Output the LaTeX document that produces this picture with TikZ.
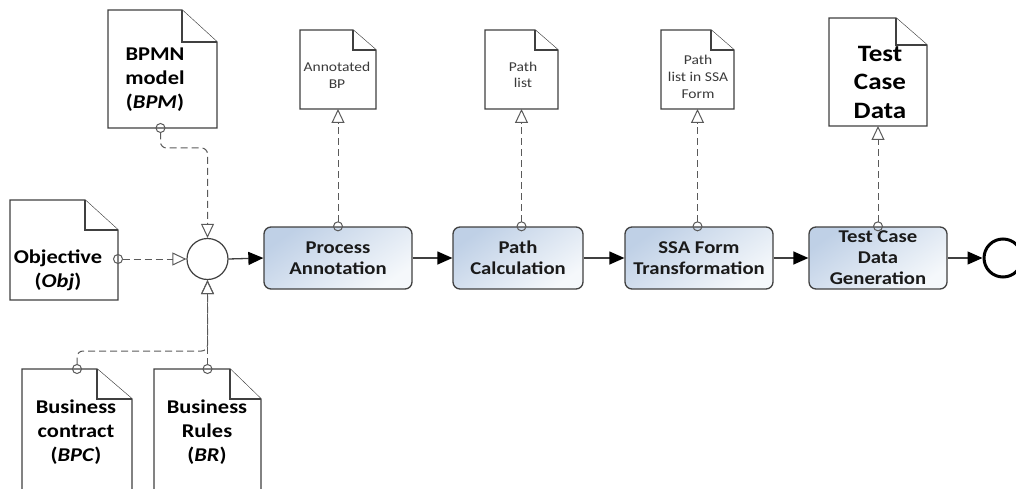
\documentclass[tikz,border=0pt]{standalone}
\usepackage{fontspec}
\setmainfont{Carlito}[FakeStretch=1.15]
\usetikzlibrary{arrows.meta}
\definecolor{lc}{HTML}{404040}
\definecolor{dc}{HTML}{5A5A5A}
\definecolor{boxtop}{HTML}{BFD0E6}
\definecolor{boxbot}{HTML}{F5F8FB}
\definecolor{tc}{HTML}{1A1A1A}
\definecolor{sc}{HTML}{3A3A3A}
\newcommand{\docfold}[3]{%
  \draw[docline] (#1.north west) -- ([xshift=-#2pt]#1.north east) -- ([yshift=-#3pt]#1.north east) -- (#1.south east) -- (#1.south west) -- cycle;
  \draw[docline] ([xshift=-#2pt]#1.north east) |- ([yshift=-#3pt]#1.north east);
}
\begin{document}
\begin{tikzpicture}[x=1pt,y=-1pt,
  task/.style={draw=lc, line width=1.3pt, rounded corners=7pt, top color=boxtop, bottom color=boxbot, shading angle=35, minimum height=62pt, inner sep=0pt, align=center, font=\fontsize{18}{21}\selectfont\bfseries, text=tc},
  docnode/.style={inner sep=0pt, outer sep=0pt},
  docline/.style={draw=lc, line width=1.2pt, fill=white, line join=miter},
  bigtext/.style={align=center, inner sep=0pt, font=\fontsize{19.5}{24}\selectfont\bfseries, text=black},
  hugetext/.style={align=center, inner sep=0pt, font=\fontsize{23.5}{28.5}\selectfont\bfseries, text=black},
  smalltext/.style={align=center, inner sep=0pt, font=\fontsize{13.5}{16.7}\selectfont, text=sc},
  flow/.style={draw=lc, line width=1.3pt, -{Triangle[length=15pt,width=13pt,color=black]}},
  assoc/.style={draw=dc, line width=1pt, dash pattern=on 7pt off 4pt, {Circle[open,length=10pt,width=10pt]}-{Triangle[open,length=14pt,width=13pt]}},
]
\useasboundingbox (0,0) rectangle (1016,489);
\clip (0,0) rectangle (1016,489);

% documents
\node[docnode, minimum width=109pt, minimum height=118pt] (bpmn) at (162.5,69) {};
\node[docnode, minimum width=108pt, minimum height=100pt] (obj) at (64,250) {};
\node[docnode, minimum width=110pt, minimum height=141pt] (bpc) at (77,439.5) {};
\node[docnode, minimum width=107pt, minimum height=141pt] (br) at (207.5,439.5) {};
\node[docnode, minimum width=76pt, minimum height=79pt] (abp) at (338,69.5) {};
\node[docnode, minimum width=73pt, minimum height=79pt] (pl) at (521.5,69.5) {};
\node[docnode, minimum width=73pt, minimum height=79pt] (ssad) at (697.5,69.5) {};
\node[docnode, minimum width=98pt, minimum height=108pt] (tcd) at (878,72) {};
\docfold{bpmn}{35}{32}
\docfold{obj}{33}{30}
\docfold{bpc}{35}{30}
\docfold{br}{31}{30}
\docfold{abp}{23}{20}
\docfold{pl}{23}{20}
\docfold{ssad}{23}{20}
\docfold{tcd}{31}{27}

\node[bigtext] (bpmnt) at (155,80) {BPMN\\model\\(\textit{BPM})};
\node[bigtext] (objt) at (58,270) {Objective\\(\textit{Obj})};
\node[bigtext] (bpct) at (76,432) {Business\\contract\\(\textit{BPC})};
\node[bigtext] (brt) at (207,432) {Business\\Rules\\(\textit{BR})};
\node[hugetext] (tcdt) at (880,82) {Test\\Case\\Data};
\node[smalltext] (abpt) at (337,75) {Annotated\\BP};
\node[smalltext] (plt) at (523,75) {Path\\list};
\node[smalltext] (ssat) at (698,77) {Path\\list in SSA\\Form};

% gateway, tasks, end
\node[draw=lc, line width=1.2pt, circle, minimum size=41pt, inner sep=0pt, fill=white] (gw) at (207.5,259) {};
\node[task, minimum width=148pt] (pa) at (338,258) {Process\\Annotation};
\node[task, minimum width=130pt] (pc) at (518,258) {Path\\Calculation};
\node[task, minimum width=148pt] (ssa) at (699,258) {SSA Form\\Transformation};
\node[task, minimum width=138pt] (tcdg) at (878,258) {Test Case\\Data\\Generation};
\node[draw=black, line width=3pt, circle, minimum size=38pt, inner sep=0pt] (endev) at (1003,258) {};

% sequence flows
\draw[flow] (gw.east) -- (pa.west);
\draw[flow] (pa.east) -- (pc.west);
\draw[flow] (pc.east) -- (ssa.west);
\draw[flow] (ssa.east) -- (tcdg.west);
\draw[flow] (tcdg.east) -- (endev.west);

% data associations
\draw[assoc, rounded corners=6pt] ([xshift=-2pt,yshift=5pt]bpmn.south) -- ++(0,25) -| (gw.north);
\draw[assoc] ([xshift=-5pt]obj.east |- gw.west) -- (gw.west);
\draw[assoc, rounded corners=6pt] ([yshift=-5pt]bpc.north) -- ++(0,-23) -| (gw.south);
\draw[assoc] ([yshift=-5pt]br.north) -- (gw.south);
\draw[assoc] ([yshift=-5pt]pa.north) -- (abp.south);
\draw[assoc] ([yshift=-5pt]pl.south |- pc.north) -- (pl.south);
\draw[assoc] ([yshift=-5pt]ssad.south |- ssa.north) -- (ssad.south);
\draw[assoc] ([yshift=-5pt]tcd.south |- tcdg.north) -- (tcd.south);
\end{tikzpicture}
\end{document}
